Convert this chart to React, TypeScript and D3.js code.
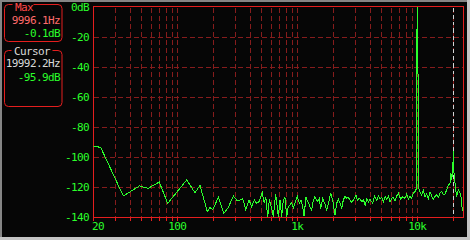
import React from "react";
import * as d3 from "d3";

// ---- data ----
const spectrumFreqHz = [
  20, 23, 35.5, 48.3, 57.3, 70.8, 83.2, 119.8, 140.5, 154.7, 177.8, 187.4, 197.5, 219.8, 245, 266, 293, 312.6, 333, 350.8,
  371.6, 396, 417, 438.6, 459, 480, 511, 531, 546, 567, 585, 612, 631, 661, 695, 718, 741, 765, 790, 816,
  842, 870, 898, 927, 957, 1001, 1040, 1074, 1109, 1138, 1182, 1237, 1276, 1317, 1361, 1405, 1469, 1526, 1566, 1628,
  1702, 1757, 1849, 1897, 1972, 2063, 2130, 2199, 2270, 2343, 2419, 2497, 2580, 2661, 2750, 2838, 2932, 3086, 3170, 3296,
  3451, 3564, 3681, 3801, 3926, 4036, 4256, 4396, 4601, 4752, 4890, 5051, 5218, 5389, 5558, 5741, 5925, 6117, 6317, 6524,
  6735, 6957, 7271, 7555, 7895, 8158, 8420, 8696, 8980, 9271, 9572, 9740, 9780, 9800, 9996.1, 10200, 10220, 10260, 10536, 10880,
  11234, 11600, 11975, 12365, 12765, 13182, 13610, 14049, 14507, 14975, 15462, 15965, 16485, 17021, 17573, 18147, 18740, 19100, 19345, 19725,
  19992.2, 20231, 20350, 20740, 21285, 21978, 22698, 23136, 23734, 24000,
];
const spectrumDb = [
  -92.7, -93.6, -126, -119.3, -120.9, -116.7, -130.9, -115.3, -123.8, -118.9, -136.4, -133.6, -135.3, -126.9, -137.6, -133.6, -126, -128.7, -128.7, -127.8,
  -134.9, -128.7, -133.1, -128.7, -130.9, -129.8, -123.8, -130.9, -126.4, -139.8, -128.2, -134.2, -139.8, -124.7, -139.8, -128.7, -139.8, -128.7, -126.9, -139.8,
  -133.1, -132, -130.4, -134.2, -130.9, -126.4, -130.9, -128.7, -133.1, -139.3, -126.9, -130.4, -133.1, -135.3, -128.7, -126.4, -129.8, -127.6, -134.9, -127.6,
  -131.3, -135.3, -128.7, -124.2, -128.7, -138.7, -130.9, -128.2, -130.9, -134.2, -128.7, -126.4, -127.6, -126.9, -128.7, -130.4, -128.7, -125.3, -128.7, -127.6,
  -129.8, -128.7, -132, -127.6, -129.8, -128.2, -130.9, -126, -128.7, -126, -128.2, -126.9, -129.8, -126.4, -128.2, -126, -129.8, -127.6, -126.9, -129.1,
  -126, -124.2, -128.2, -126.4, -127.6, -124.7, -128.2, -126, -127.6, -124.2, -123.1, -121.6, -121.5, -62, -0.1, -62, -121.5, -120.5, -123.1, -125.3,
  -122, -126.4, -124.7, -127.6, -123.1, -126, -128.2, -126.4, -125.3, -126.9, -124.2, -123.1, -125.3, -124.7, -122, -118.7, -117.6, -111, -115.3, -109.8,
  -95.9, -110.9, -112, -119.8, -126.4, -122, -124.2, -126.4, -135.3, -135.5,
];

const yGridDb = [-20, -40, -60, -80, -100, -120];
const yLabelDb = [0, -20, -40, -60, -80, -100, -120, -140];
const yLabelText = ["0dB", "-20", "-40", "-60", "-80", "-100", "-120", "-140"];
const xGridHz = [
  30, 40, 50, 60, 70, 80, 90, 100, 200, 300, 400, 500, 600, 700, 800, 900,
  1000, 2000, 3000, 4000, 5000, 6000, 7000, 8000, 9000, 10000, 20000,
];
const xLabelHz = [20, 100, 1000, 10000];
const xLabelText = ["20", "100", "1k", "10k"];

const maxFreqText = "9996.1Hz";
const maxLevelText = "-0.1dB";
const cursorFreqHz = 19992.2;
const cursorFreqText = "19992.2Hz";
const cursorLevelText = "-95.9dB";

// ---- styles ----
const BG = "#060606";
const GREEN = "#2bff2b";
const FRAME = "#e41e1e";
const GRID = "#861c1c";
const FONT = "'DejaVu Sans Mono', monospace";

export default function App() {
  const W = 470;
  const H = 240;
  const x = d3.scaleLog().domain([20, 24000]).range([93.4, 462.9]);
  const y = d3.scaleLinear().domain([0, -140]).range([7, 217]);

  const left = Math.round(x(20)) + 0.5;
  const right = Math.round(x(24000)) + 0.5;
  const top = y(0) - 0.5;
  const bottom = y(-140) + 0.5;

  const pts: [number, number][] = spectrumFreqHz.map((f, i) => [f, spectrumDb[i]]);
  const line = d3
    .line<[number, number]>()
    .x((d) => x(d[0]))
    .y((d) => y(d[1]));

  const cx = Math.round(x(cursorFreqHz)) + 0.5;

  const textProps = {
    fontFamily: FONT,
    fontSize: 11,
    letterSpacing: -0.6,
    dominantBaseline: "central" as const,
  };

  return (
    <svg
      width={W}
      height={H}
      style={{ position: "fixed", left: 0, top: 0, display: "block" }}
    >
      <defs>
        <clipPath id="plotClip">
          <rect x={left} y={top} width={right - left + 1} height={bottom - top} />
        </clipPath>
      </defs>
      <rect x={0} y={0} width={W} height={H} fill={BG} />
      {/* window border */}
      <rect x={0} y={0} width={W} height={2} fill="#858585" />
      <rect x={0} y={0} width={2} height={H} fill="#858585" />
      <rect x={W - 3} y={0} width={3} height={H} fill="#c4c4c4" />
      <rect x={0} y={H - 3} width={W} height={3} fill="#c4c4c4" />

      {/* grid */}
      <g stroke={GRID} strokeWidth={1} strokeDasharray="5,3" shapeRendering="crispEdges">
        {xGridHz.map((f) => {
          const gx = Math.round(x(f)) + 0.5;
          return <line key={"vx" + f} x1={gx} x2={gx} y1={top + 1} y2={bottom} />;
        })}
        {yGridDb.map((v) => {
          const gy = Math.round(y(v)) + 0.5;
          return <line key={"hy" + v} x1={left} x2={right} y1={gy} y2={gy} />;
        })}
      </g>
      {/* ticks under axis */}
      <g stroke={FRAME} strokeWidth={1} shapeRendering="crispEdges">
        {[20, ...xGridHz].map((f) => {
          const gx = Math.round(x(f)) + 0.5;
          return <line key={"t" + f} x1={gx} x2={gx} y1={bottom} y2={bottom + 3} />;
        })}
      </g>
      {/* frame */}
      <path
        d={`M${left},${bottom}V${top}H${right}V${bottom}H${left}`}
        fill="none"
        stroke={FRAME}
        strokeWidth={1}
        shapeRendering="crispEdges"
      />

      {/* cursor */}
      <line
        x1={cx}
        x2={cx}
        y1={top + 1}
        y2={bottom - 1}
        stroke="#d4d4d4"
        strokeWidth={1}
        strokeDasharray="4,3"
        shapeRendering="crispEdges"
      />

      {/* spectrum */}
      <path
        d={line(pts) || ""}
        fill="none"
        stroke={GREEN}
        strokeWidth={1}
        shapeRendering="crispEdges"
        clipPath="url(#plotClip)"
      />

      {/* y labels */}
      {yLabelDb.map((v, i) => (
        <text key={"yl" + v} x={89} y={y(v) + 0.5} textAnchor="end" fill={GREEN} {...textProps}>
          {yLabelText[i]}
        </text>
      ))}
      {/* x labels */}
      {xLabelHz.map((f, i) => (
        <text
          key={"xl" + f}
          x={i === 0 ? 92 : x(f)}
          y={226.5}
          textAnchor={i === 0 ? "start" : "middle"}
          fill={GREEN}
          {...textProps}
        >
          {xLabelText[i]}
        </text>
      ))}

      {/* Max box */}
      <rect x={4.5} y={4.5} width={57.5} height={37} rx={4} fill="none" stroke={FRAME} strokeWidth={1} />
      <rect x={12.5} y={3} width={21} height={4} fill={BG} />
      <text x={15} y={7.5} fill="#ff4a4a" {...textProps}>Max</text>
      <text x={60} y={20.5} textAnchor="end" fill="#ff6b6b" {...textProps}>{maxFreqText}</text>
      <text x={60} y={33.5} textAnchor="end" fill={GREEN} {...textProps}>{maxLevelText}</text>

      {/* Cursor box */}
      <rect x={4.5} y={50.5} width={57.5} height={56} rx={4} fill="none" stroke={FRAME} strokeWidth={1} />
      <rect x={11.5} y={48} width={41} height={5} fill={BG} />
      <text x={14} y={51} fill="#d8d8d8" {...textProps}>Cursor</text>
      <text x={60} y={63.5} textAnchor="end" fill="#d8d8d8" {...textProps}>{cursorFreqText}</text>
      <text x={60} y={77.5} textAnchor="end" fill={GREEN} {...textProps}>{cursorLevelText}</text>
    </svg>
  );
}
